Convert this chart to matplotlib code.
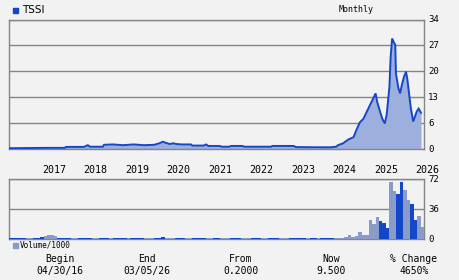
import matplotlib
matplotlib.use("Agg")
import matplotlib.pyplot as plt

# ---------------- data ----------------
symbol = "TSSI"
start_month = (2016, 4)          # first monthly bar
price_dates = [
    "2016-04-01", "2016-09-01", "2017-03-01", "2017-08-05", "2017-08-15",
    "2018-01-20", "2018-02-25", "2018-03-15", "2018-07-05", "2018-07-15",
    "2018-10-01", "2019-01-01", "2019-04-01", "2019-07-01", "2019-10-01",
    "2019-11-15", "2019-12-15", "2020-01-15", "2020-02-15", "2020-03-15",
    "2020-04-15", "2020-06-01", "2020-08-20", "2020-09-01", "2020-12-10",
    "2021-01-01", "2021-01-20", "2021-05-01", "2021-05-15", "2021-07-25",
    "2021-08-05", "2021-11-15", "2021-12-01", "2022-07-25", "2022-08-05",
    "2023-02-10", "2023-03-01", "2023-09-01", "2024-01-01", "2024-02-20",
    "2024-03-05", "2024-04-20", "2024-06-05", "2024-07-20", "2024-08-15",
    "2024-09-15", "2024-10-15", "2024-11-12", "2024-12-12", "2025-01-10",
    "2025-02-01", "2025-02-15", "2025-03-10", "2025-03-29", "2025-04-21",
    "2025-05-07", "2025-06-01", "2025-06-12", "2025-06-25", "2025-07-10",
    "2025-07-22", "2025-07-28", "2025-08-19", "2025-09-04", "2025-09-19",
    "2025-10-07", "2025-10-25", "2025-11-06", "2025-11-25", "2025-12-07",
    "2025-12-28", "2026-01-28", "2026-02-15", "2026-03-05",
]
price_vals = [
    0.20, 0.25, 0.30, 0.30, 0.55,
    0.55, 1.00, 0.60, 0.60, 1.10,
    1.20, 1.00, 1.20, 1.00, 1.10,
    1.50, 1.90, 1.60, 1.30, 1.50,
    1.30, 1.20, 1.20, 0.90, 0.90,
    1.20, 0.80, 0.80, 0.60, 0.60,
    0.80, 0.80, 0.60, 0.60, 0.80,
    0.80, 0.50, 0.45, 0.45, 0.60,
    1.00, 1.50, 2.50, 3.10, 5.00,
    7.00, 7.90, 9.60, 11.5, 13.2,
    14.6, 12.4, 9.80, 8.00, 6.70,
    8.90, 16.3, 24.2, 29.0, 28.0,
    27.3, 19.8, 16.0, 14.6, 16.8,
    18.9, 20.3, 18.5, 13.7, 10.7,
    7.20, 9.80, 10.6, 9.50,
]
volume = [
    1.8, 1.8, 1.8, 1.8, 1.8, 1.8, 1.8, 1.8, 1.8, 2.2,
    3.5, 5.0, 5.0, 3.5, 1.8, 1.8, 1.8, 1.8, 1.8, 1.8,
    1.8, 1.8, 1.8, 1.8, 1.8, 1.8, 1.8, 1.8, 1.8, 1.8,
    1.8, 1.8, 1.8, 1.8, 1.8, 1.8, 1.8, 1.8, 1.8, 1.8,
    1.8, 1.8, 1.8, 1.8, 2.2, 1.8, 1.8, 1.8, 1.8, 1.8,
    1.8, 1.8, 1.8, 1.8, 1.8, 1.8, 1.8, 1.8, 1.8, 1.8,
    1.8, 1.8, 1.8, 1.8, 1.8, 1.8, 1.8, 1.8, 1.8, 1.8,
    1.8, 1.8, 1.8, 1.8, 1.8, 1.8, 1.8, 1.8, 1.8, 1.8,
    1.8, 1.8, 1.8, 1.8, 1.8, 1.8, 1.8, 1.8, 1.8, 1.8,
    1.8, 1.8, 1.8, 1.8, 1.8, 1.8, 1.8, 2.2, 4.8, 3.0,
    4.0, 8.4, 4.8, 4.8, 22.8, 18.0, 26.4, 21.6, 19.6, 13.2,
    68.0, 57.6, 54.0, 68.0, 58.8, 46.8, 42.0, 22.8, 27.6, 14.8,
]
volume_dir = "".join([
    "DDDDD", "LL", "DDD", "LLLL", "DDDD", "LL", "DDDD", "LL", "DDD", "L",
    "DDDD", "L", "DDDD", "LLL", "DDD", "LLL", "DDD", "LL", "DDDD", "LL",
    "DD", "LLL", "DDD", "LLL", "DDD", "LL", "DDD", "LLL", "DDDDD", "L",
    "DD", "L", "DDDD", "LLLLLLLLLLLLL", "DDD", "LL", "DD", "LL", "DD", "LL",
])
year_labels = ["2017", "2018", "2019", "2020", "2021", "2022", "2023", "2024", "2025", "2026"]
price_ticks = [0, 6.8, 13.6, 20.4, 27.2, 34]
price_tick_labels = ["0", "6", "13", "20", "27", "34"]
vol_ticks = [0, 36, 72]
vol_tick_labels = ["0", "36", "72"]
stat_headers = ["Begin", "End", "From", "Now", "% Change"]
stat_values = ["04/30/16", "03/05/26", "0.2000", "9.500", "4650%"]

# ---------------- helpers ----------------
def month_pos(s):
    y, m, d = (int(v) for v in s.split("-"))
    return (y - start_month[0]) * 12 + (m - start_month[1]) + (d - 1) / 30.5 - 0.5

px = [month_pos(s) for s in price_dates]
n = len(volume)

BG = "#f2f2f2"
GRID = "#858585"
LINE = "#1546c8"
FILL = "#9db0dd"
VOL_L = "#8a9bc9"
VOL_D = "#1446c8"

W, H = 460, 280
fig = plt.figure(figsize=(W / 100, H / 100), dpi=100)
fig.patch.set_facecolor(BG)

def axrect(l, t, r, b):
    return [l / W, 1 - b / H, (r - l) / W, (b - t) / H]

ax = fig.add_axes(axrect(9, 19.5, 424, 149))
axv = fig.add_axes(axrect(9, 179, 424, 239))

for a in (ax, axv):
    a.set_facecolor(BG)
    for sp in a.spines.values():
        sp.set_color(GRID)
        sp.set_linewidth(1.0)
    a.set_xlim(-0.5, n - 0.5)
    a.tick_params(axis="both", length=0, labelsize=6.5, pad=3)
    a.yaxis.tick_right()
    a.set_xticks([])

# price panel
ax.set_ylim(0, 34)
ax.set_yticks(price_ticks)
ax.set_yticklabels(price_tick_labels, family="DejaVu Sans Mono", va="center")
ax.grid(axis="y", color=GRID, lw=1.0)
ax.set_axisbelow(True)
ax.fill_between(px, 0, price_vals, color=FILL, lw=0, zorder=2)
ax.plot(px, price_vals, color=LINE, lw=1.4, zorder=3, solid_joinstyle="miter")

# year labels (left-aligned at January)
for lab in year_labels:
    xpos = month_pos(f"{lab}-01-01")
    ax.text(xpos + 0.5, -5.4, lab, ha="left", va="center", fontsize=7.2,
            family="DejaVu Sans Mono", clip_on=False)

# volume panel
axv.set_ylim(0, 72)
axv.set_yticks(vol_ticks)
axv.set_yticklabels(vol_tick_labels, family="DejaVu Sans Mono", va="center")
axv.grid(axis="y", color=GRID, lw=1.0)
axv.set_axisbelow(True)
cols = [VOL_D if c == "D" else VOL_L for c in volume_dir]
cols += [VOL_L] * (n - len(cols))
axv.bar(range(n), volume, width=1.0, color=cols[:n], lw=0, zorder=3)

# header texts
fig.patches.append(plt.Rectangle((13 / W, 1 - 12.5 / H), 4.5 / W, 4.5 / H,
                                 transform=fig.transFigure, color=VOL_D))
fig.text(22 / W, 1 - 10 / H, symbol, ha="left", va="center", fontsize=7.5,
         family="DejaVu Sans")
fig.text(356 / W, 1 - 9 / H, "Monthly", ha="center", va="center", fontsize=6,
         family="DejaVu Sans Mono")

fig.patches.append(plt.Rectangle((13 / W, 1 - 247.5 / H), 4.5 / W, 4.5 / H,
                                 transform=fig.transFigure, color=VOL_L))
fig.text(20 / W, 1 - 245 / H, "Volume/1000", ha="left", va="center", fontsize=5.5,
         family="DejaVu Sans Mono")

stat_x = [60, 147, 241, 331, 414]
for xx, h, v in zip(stat_x, stat_headers, stat_values):
    fig.text(xx / W, 1 - 259 / H, h, ha="center", va="center", fontsize=7,
             family="DejaVu Sans Mono")
    fig.text(xx / W, 1 - 271 / H, v, ha="center", va="center", fontsize=7,
             family="DejaVu Sans Mono")

fig.savefig("out.png", dpi=100, facecolor=BG)
